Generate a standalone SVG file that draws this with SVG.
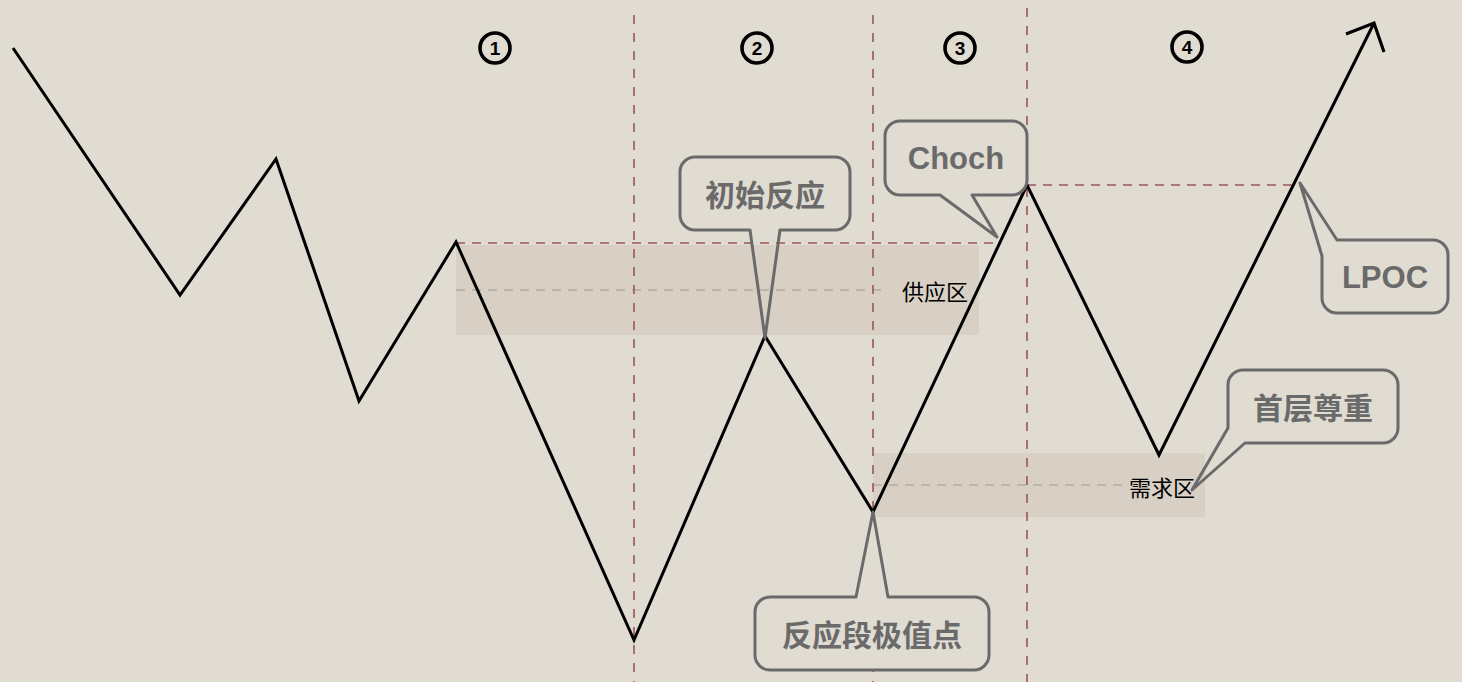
<svg xmlns="http://www.w3.org/2000/svg" width="1462" height="682" viewBox="0 0 1462 682">
<style>
.vdash{stroke:#9a5555;stroke-width:1.6;stroke-dasharray:9 9;fill:none}
.rdash{stroke:#9a5555;stroke-width:1.4;stroke-dasharray:9 7;fill:none}
.gdash{stroke:#b2aaa0;stroke-width:1.6;stroke-dasharray:9 7;fill:none}
.zone{fill:#d8d0c5}
.zlabel{font-family:"Noto Sans CJK SC","Noto Sans CJK JP",sans-serif;font-size:22px;fill:#000;text-anchor:middle;dominant-baseline:central}
.callout{fill:none;stroke:#6a6a6a;stroke-width:3;stroke-linejoin:round}
.cbg{fill:#e0dcd2}
.ctext{font-family:"Noto Sans CJK SC","Noto Sans CJK JP",sans-serif;font-size:30px;font-weight:bold;fill:#6a6a6a;text-anchor:middle;dominant-baseline:central}
.ltext{font-family:"Liberation Sans",Arial,sans-serif;font-size:31px;font-weight:bold;fill:#6a6a6a;text-anchor:middle;dominant-baseline:central}
.num circle{fill:none;stroke:#000;stroke-width:3.6}
.num text{font-family:"Liberation Sans",Arial,sans-serif;font-size:19px;font-weight:bold;fill:#000;text-anchor:middle;dominant-baseline:central}
</style>
<rect x="0" y="0" width="1462" height="682" fill="#e0dcd2"/>
<g id="zones">
<rect class="zone" x="456" y="245" width="523" height="90"/>
<rect class="zone" x="873" y="453" width="332" height="64"/>
<line class="gdash" x1="456" y1="290" x2="884" y2="290"/>
<line class="gdash" x1="873" y1="485" x2="1122" y2="485"/>
<text class="zlabel" x="935" y="290">供应区</text>
<text class="zlabel" x="1162" y="486">需求区</text>
</g>
<g id="guides">
<line class="vdash" x1="634" y1="15" x2="634" y2="682"/>
<line class="vdash" x1="873" y1="15" x2="873" y2="682"/>
<line class="vdash" x1="1027" y1="8" x2="1027" y2="682"/>
<line class="rdash" x1="456" y1="243" x2="998" y2="243"/>
<line class="rdash" x1="1027" y1="185" x2="1300" y2="185"/>
</g>
<g id="numbers">
<g class="num" id="n1"><circle cx="495" cy="48" r="15"/><text x="495" y="48">1</text></g>
<g class="num" id="n2"><circle cx="757" cy="48" r="15"/><text x="757" y="48">2</text></g>
<g class="num" id="n3"><circle cx="960" cy="48" r="15"/><text x="960" y="48">3</text></g>
<g class="num" id="n4"><circle cx="1187" cy="47" r="15"/><text x="1187" y="47">4</text></g>
</g>
<g id="connectors">
<polyline points="13,48 180,295 276,159 359,401 456,242 634,640 765,336 873,512 1027,185 1159,455 1374,23" fill="none" stroke="#000" stroke-width="3" stroke-linejoin="miter"/>
<polyline points="1346,34 1374,23 1384,52" fill="none" stroke="#000" stroke-width="3.2"/>
</g>
<g id="callout-chushi">
<rect class="cbg" x="680" y="157" width="170" height="73" rx="15"/>
<path class="callout" d="M695,157 H835 A15,15 0 0 1 850,172 V215 A15,15 0 0 1 835,230 H780 L765,338 L750,230 H695 A15,15 0 0 1 680,215 V172 A15,15 0 0 1 695,157 Z"/>
<text class="ctext" x="765" y="193">初始反应</text>
</g>
<g id="callout-choch">
<rect class="cbg" x="885" y="121" width="142" height="74" rx="15"/>
<path class="callout" d="M900,121 H1012 A15,15 0 0 1 1027,136 V180 A15,15 0 0 1 1012,195 H972 L997,237 L940,195 H900 A15,15 0 0 1 885,180 V136 A15,15 0 0 1 900,121 Z"/>
<text class="ltext" x="956" y="158">Choch</text>
</g>
<g id="callout-lpoc">
<rect class="cbg" x="1322" y="240" width="126" height="73" rx="15"/>
<path class="callout" d="M1337,240 H1433 A15,15 0 0 1 1448,255 V298 A15,15 0 0 1 1433,313 H1337 A15,15 0 0 1 1322,298 V256 L1300,183 Z"/>
<text class="ltext" x="1385" y="277">LPOC</text>
</g>
<g id="callout-shouceng">
<rect class="cbg" x="1228" y="370" width="170" height="73" rx="15"/>
<path class="callout" d="M1243,370 H1383 A15,15 0 0 1 1398,385 V428 A15,15 0 0 1 1383,443 H1245 L1192,490 L1228,428 V385 A15,15 0 0 1 1243,370 Z"/>
<text class="ctext" x="1313" y="406">首层尊重</text>
</g>
<g id="callout-jizhi">
<path class="callout cbg" d="M770,597 H856 L873,512 L888,597 H974 A15,15 0 0 1 989,612 V655 A15,15 0 0 1 974,670 H770 A15,15 0 0 1 755,655 V612 A15,15 0 0 1 770,597 Z" style="fill:#e0dcd2"/>
<text class="ctext" x="872" y="633">反应段极值点</text>
</g>
</svg>
